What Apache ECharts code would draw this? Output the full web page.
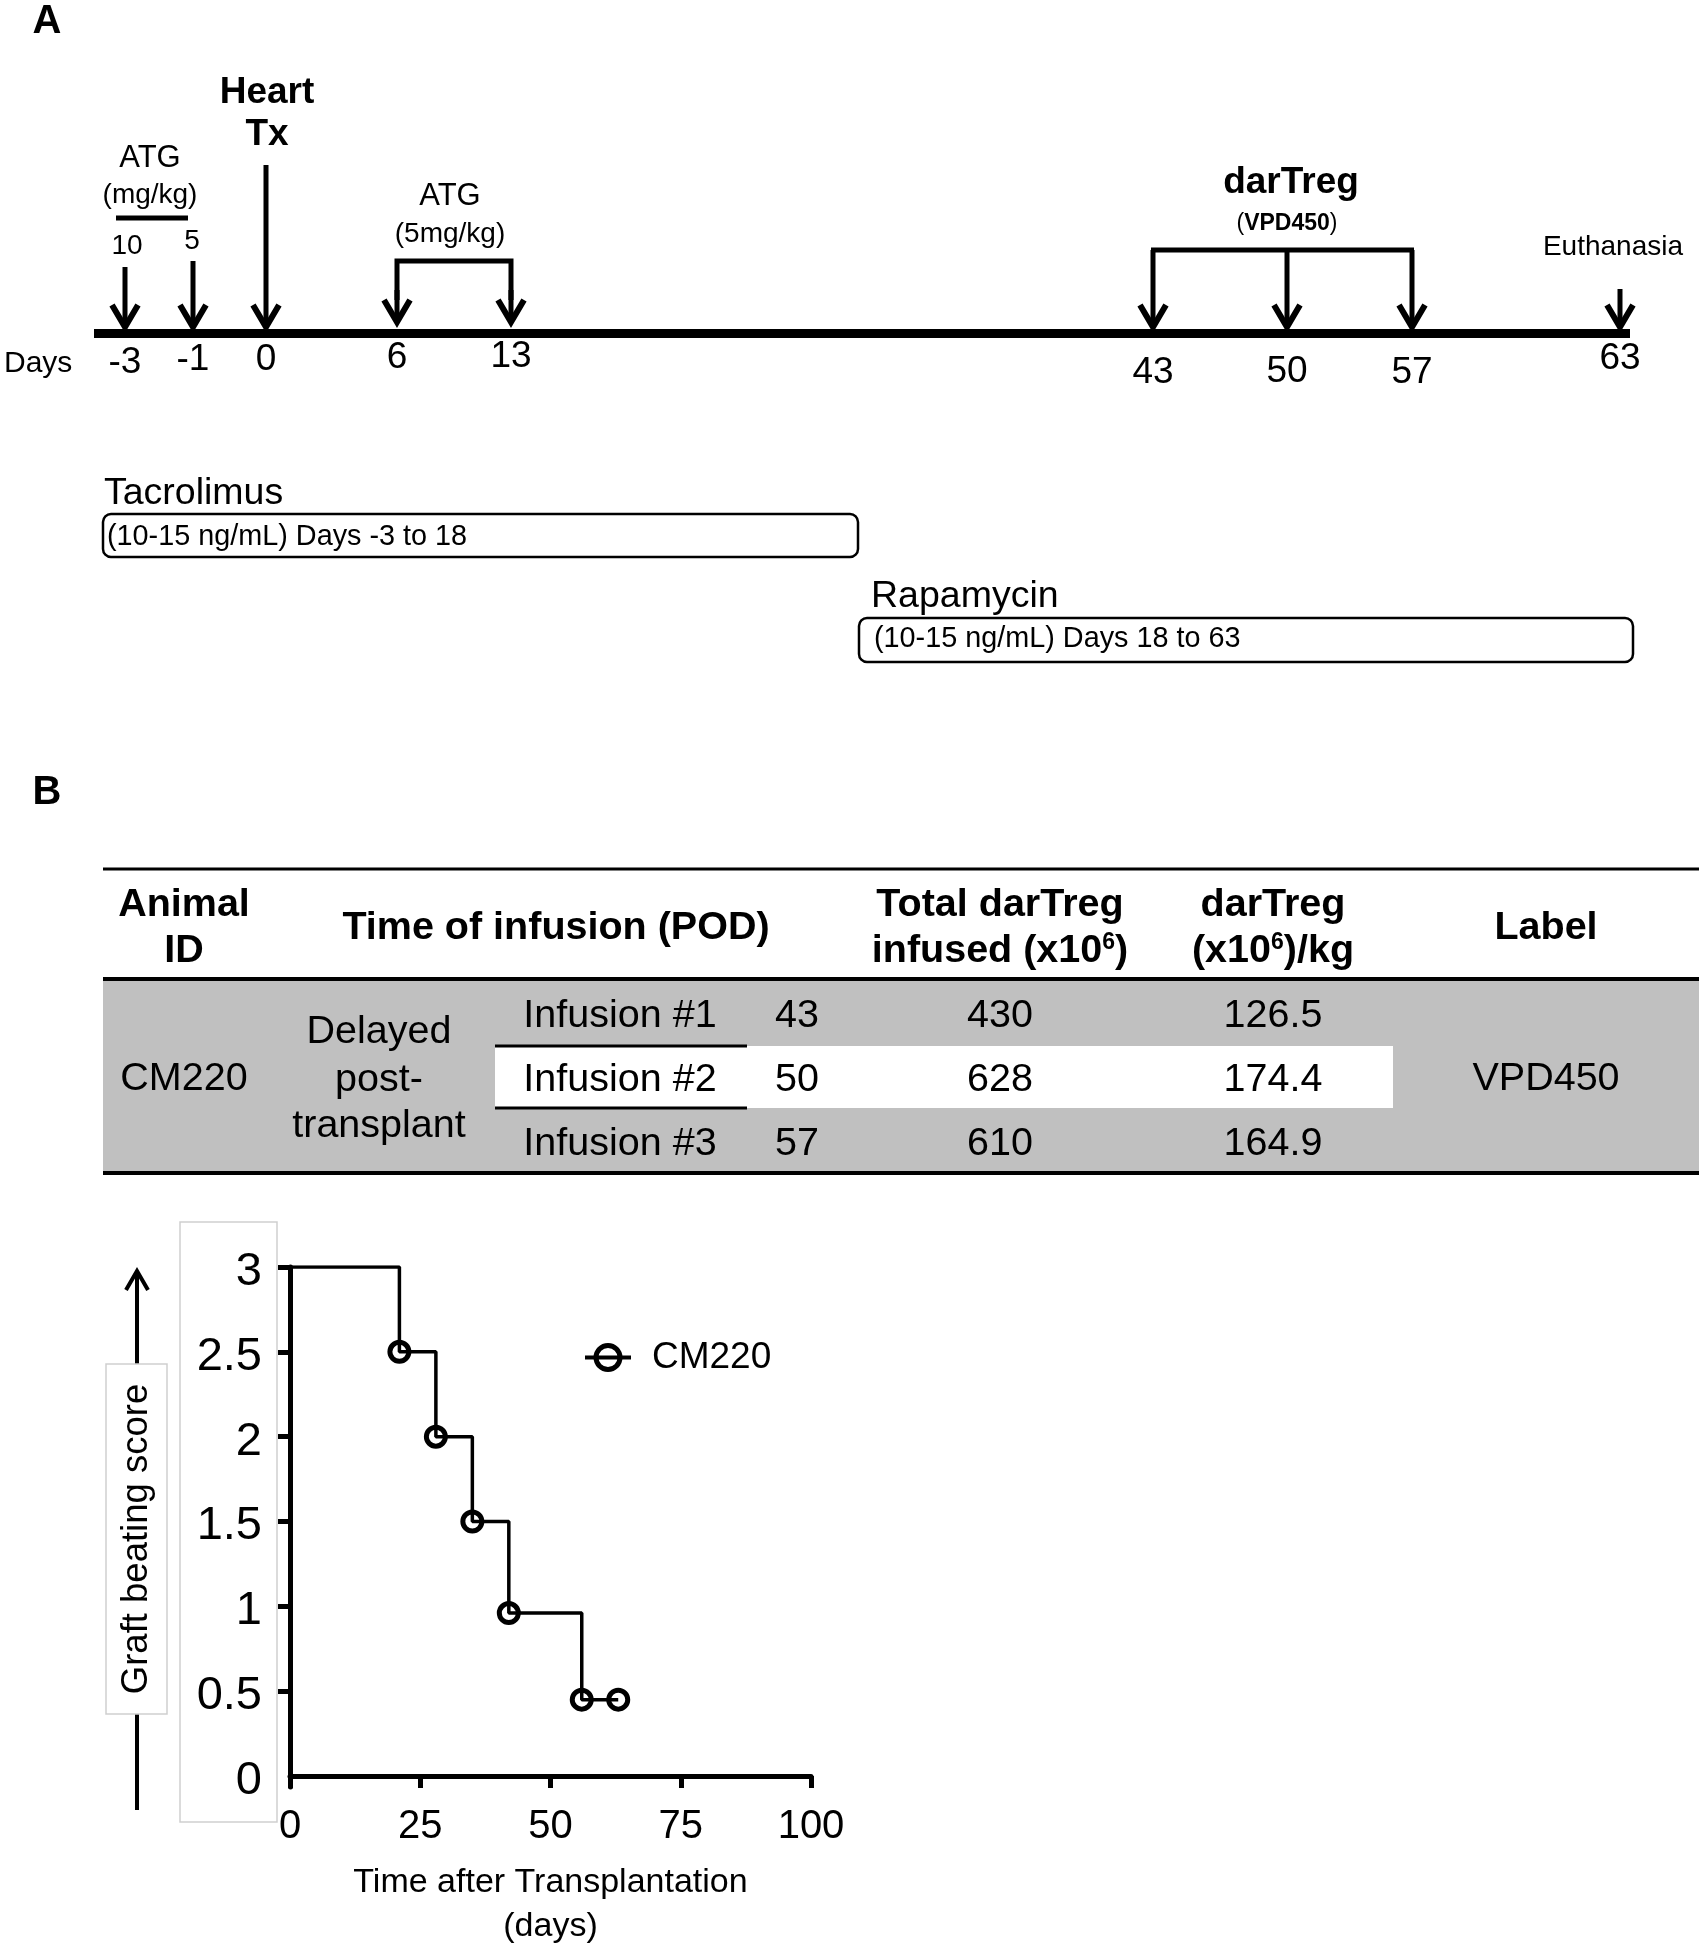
<!DOCTYPE html>
<html>
<head>
<meta charset="utf-8">
<script src="https://cdn.jsdelivr.net/npm/echarts@6/dist/echarts.min.js"></script>
<style>
  html, body { margin: 0; padding: 0; background: #fff; }
  #main { width: 1705px; height: 1950px; }
</style>
</head>
<body>
<div id="main"></div>
<script>
// panel A timeline (days are labels of a schematic, not to scale)
var tlDays = ['-3', '-1', '0', '6', '13', '43', '50', '57', '63']
// table rows
var animalId = 'CM220'
var infusionNames = ['Infusion #1', 'Infusion #2', 'Infusion #3']
var infusionPOD = [43, 50, 57]
var totalInfused = [430, 628, 610]
var perKg = [126.5, 174.4, 164.9]
var cellLabel = 'VPD450'
// graft beating score over time
var kmDays = [0, 21, 28, 35, 42, 56, 63]
var kmScore = [3, 2.5, 2, 1.5, 0.96, 0.45, 0.45]
var yTicks = [0, 0.5, 1, 1.5, 2, 2.5, 3]

var FONT = '"Liberation Sans", Arial, Helvetica, sans-serif'

// layout of the schematic timeline (pixel slots for each day label)
var tlX = [125, 193, 266, 397, 511, 1153, 1287, 1412, 1620]
var tlLabelY = [363, 360, 360, 358, 357, 373, 372, 373, 359]

function txt (x, y, text, size, opts) {
  opts = opts || {}
  return {
    type: 'text',
    x: x,
    y: y,
    z: 10,
    style: {
      text: text,
      fill: '#000',
      fontSize: size,
      fontFamily: FONT,
      fontWeight: opts.bold ? 'bold' : 'normal',
      align: opts.align || 'center',
      verticalAlign: 'middle',
      rich: opts.rich
    }
  }
}
function seg (x1, y1, x2, y2, w, color) {
  return {
    type: 'line',
    z: 5,
    shape: { x1: x1, y1: y1, x2: x2, y2: y2 },
    style: { stroke: color || '#000', lineWidth: w }
  }
}
function arrowDown (x, top, tip) {
  return [
    seg(x, top, x, tip - 3, 5),
    {
      type: 'polyline',
      z: 5,
      shape: { points: [[x - 13, tip - 22], [x, tip], [x + 13, tip - 22]] },
      style: { stroke: '#000', lineWidth: 6, fill: null, lineJoin: 'miter' }
    }
  ]
}

var g = []
// ---------- panel A ----------
g.push(txt(47, 22, 'A', 40, { bold: true }))
g.push(seg(94, 333.5, 1630, 333.5, 9))
g.push(txt(4, 364, 'Days', 30, { align: 'left' }))
tlDays.forEach(function (d, i) {
  g.push(txt(tlX[i], tlLabelY[i], d, 37))
})
// ATG pre-transplant
g.push(txt(150, 158, 'ATG', 31))
g.push(txt(150, 195, '(mg/kg)', 28))
g.push(seg(116, 218, 188, 218, 5))
g.push(txt(127, 246, '10', 28))
g.push(txt(192, 241, '5', 28))
g = g.concat(arrowDown(tlX[0], 267, 327))
g = g.concat(arrowDown(tlX[1], 261, 327))
// heart transplant
g.push(txt(267, 93, 'Heart', 37, { bold: true }))
g.push(txt(267, 135, 'Tx', 37, { bold: true }))
g = g.concat(arrowDown(tlX[2], 165, 327))
// ATG day 6 and 13
g.push(txt(450, 196, 'ATG', 31))
g.push(txt(450, 234, '(5mg/kg)', 28))
g.push({
  type: 'polyline', z: 5,
  shape: { points: [[tlX[3], 300], [tlX[3], 261], [tlX[4], 261], [tlX[4], 300]] },
  style: { stroke: '#000', lineWidth: 5, fill: null }
})
g = g.concat(arrowDown(tlX[3], 290, 322))
g = g.concat(arrowDown(tlX[4], 290, 322))
// darTreg infusions
g.push(txt(1291, 183, 'darTreg', 37, { bold: true }))
g.push(txt(1287, 224, '({b|VPD450})', 23, { rich: { b: { fontSize: 23, fontWeight: 'bold', fontFamily: FONT } } }))
g.push(seg(tlX[5] - 2, 250, tlX[7] + 2, 250, 5))
g = g.concat(arrowDown(tlX[5], 250, 327))
g = g.concat(arrowDown(tlX[6], 250, 327))
g = g.concat(arrowDown(tlX[7], 250, 327))
// euthanasia
g.push(txt(1613, 247, 'Euthanasia', 28))
g = g.concat(arrowDown(tlX[8], 289, 327))
// immunosuppression bars
g.push(txt(104, 494, 'Tacrolimus', 37.5, { align: 'left' }))
g.push({ type: 'rect', z: 4, shape: { x: 103, y: 514, width: 755, height: 43, r: 8 }, style: { fill: '#fff', stroke: '#000', lineWidth: 2.5 } })
g.push(txt(107, 537, '(10-15 ng/mL) Days -3 to 18', 28.8, { align: 'left' }))
g.push(txt(871, 597, 'Rapamycin', 37.5, { align: 'left' }))
g.push({ type: 'rect', z: 4, shape: { x: 859, y: 618, width: 774, height: 44, r: 8 }, style: { fill: '#fff', stroke: '#000', lineWidth: 2.5 } })
g.push(txt(874, 639, '(10-15 ng/mL) Days 18 to 63', 28.8, { align: 'left' }))

// ---------- panel B table ----------
g.push(txt(47, 793, 'B', 40, { bold: true }))
g.push({ type: 'rect', z: 1, shape: { x: 103, y: 980, width: 1596, height: 192 }, style: { fill: '#c0c0c0' } })
g.push({ type: 'rect', z: 2, shape: { x: 495, y: 1046, width: 898, height: 62 }, style: { fill: '#fff' } })
g.push(seg(103, 869, 1699, 869, 3))
g.push(seg(103, 979, 1699, 979, 4))
g.push(seg(103, 1173, 1699, 1173, 4))
g.push(seg(495, 1046, 747, 1046, 3))
g.push(seg(495, 1108, 747, 1108, 3))
var FS = 39.5
var sup = { s: { fontSize: 23, fontWeight: 'bold', fontFamily: FONT, verticalAlign: 'top', padding: [0, 0, 14, 0] } }
g.push(txt(184, 905, 'Animal', FS, { bold: true }))
g.push(txt(184, 951, 'ID', FS, { bold: true }))
g.push(txt(556, 928, 'Time of infusion (POD)', FS, { bold: true }))
g.push(txt(1000, 905, 'Total darTreg', FS, { bold: true }))
g.push(txt(1000, 951, 'infused (x10{s|6})', FS, { bold: true, rich: sup }))
g.push(txt(1273, 905, 'darTreg', FS, { bold: true }))
g.push(txt(1273, 951, '(x10{s|6})/kg', FS, { bold: true, rich: sup }))
g.push(txt(1546, 928, 'Label', FS, { bold: true }))
g.push(txt(184, 1079, animalId, FS))
g.push(txt(379, 1032, 'Delayed', FS))
g.push(txt(379, 1080, 'post-', FS))
g.push(txt(379, 1126, 'transplant', FS))
var rowY = [1016, 1080, 1144]
infusionNames.forEach(function (n, i) {
  g.push(txt(620, rowY[i], n, FS))
  g.push(txt(797, rowY[i], String(infusionPOD[i]), FS))
  g.push(txt(1000, rowY[i], String(totalInfused[i]), FS))
  g.push(txt(1273, rowY[i], perKg[i].toFixed(1), FS))
})
g.push(txt(1546, 1079, cellLabel, FS))

// ---------- panel B chart decorations ----------
g.push({ type: 'rect', z: 1, shape: { x: 180, y: 1222, width: 97, height: 600 }, style: { fill: null, stroke: '#cfcfcf', lineWidth: 1.5 } })
g.push(seg(137, 1810, 137, 1274, 4))
g.push({ type: 'polyline', z: 5, shape: { points: [[126, 1290], [137, 1271], [148, 1290]] }, style: { stroke: '#000', lineWidth: 4, fill: null } })
g.push({ type: 'rect', z: 6, shape: { x: 106, y: 1364, width: 61, height: 350 }, style: { fill: '#fff', stroke: '#cfcfcf', lineWidth: 1.5 } })
g.push({
  type: 'text', x: 137, y: 1539, rotation: Math.PI / 2, z: 10,
  style: { text: 'Graft beating score', fontSize: 36.5, fontFamily: FONT, fill: '#000', align: 'center', verticalAlign: 'middle' }
})

var kmData = kmDays.map(function (d, i) {
  return { value: [d, kmScore[i]], symbol: i === 0 ? 'none' : 'circle' }
})

var chart = echarts.init(document.getElementById('main'), null, { renderer: 'canvas' })
chart.setOption({
  animation: false,
  backgroundColor: '#fff',
  textStyle: { fontFamily: FONT },
  graphic: g,
  grid: { left: 290, top: 1267, width: 521, height: 521, containLabel: false },
  legend: {
    left: 578,
    top: 1334,
    itemWidth: 46,
    itemHeight: 30,
    data: ['CM220'],
    lineStyle: { width: 4 },
    itemStyle: { borderWidth: 5 },
    textStyle: { fontSize: 37, color: '#000', fontFamily: FONT, padding: [0, 0, 0, 16] }
  },
  xAxis: {
    type: 'value',
    min: 0,
    max: 100,
    interval: 25,
    name: 'Time after Transplantation\n(days)',
    nameLocation: 'middle',
    nameGap: 74,
    nameTextStyle: { fontSize: 34, color: '#000', lineHeight: 44, verticalAlign: 'top' },
    axisLine: { lineStyle: { color: '#000', width: 5 } },
    axisTick: { length: 12, lineStyle: { color: '#000', width: 5 } },
    axisLabel: { fontSize: 40, color: '#000', margin: 20 },
    splitLine: { show: false }
  },
  yAxis: {
    type: 'value',
    min: -0.065,
    max: 3,
    axisLine: { show: true, lineStyle: { color: '#000', width: 5 } },
    axisTick: { show: true, length: 12, customValues: yTicks.slice(1), lineStyle: { color: '#000', width: 5 } },
    axisLabel: {
      color: '#000',
      margin: 28,
      customValues: yTicks,
      formatter: function (v) { return '{a|' + v + '}' },
      rich: { a: { fontSize: 47, color: '#000', fontFamily: FONT, padding: [10, 0, 0, 0] } }
    },
    splitLine: { show: false }
  },
  series: [{
    name: 'CM220',
    type: 'line',
    step: 'end',
    data: kmData,
    symbol: 'circle',
    symbolSize: 19,
    lineStyle: { color: '#000', width: 3.5 },
    itemStyle: { color: 'rgba(0,0,0,0)', borderColor: '#000', borderWidth: 5 }
  }]
})
</script>
</body>
</html>
